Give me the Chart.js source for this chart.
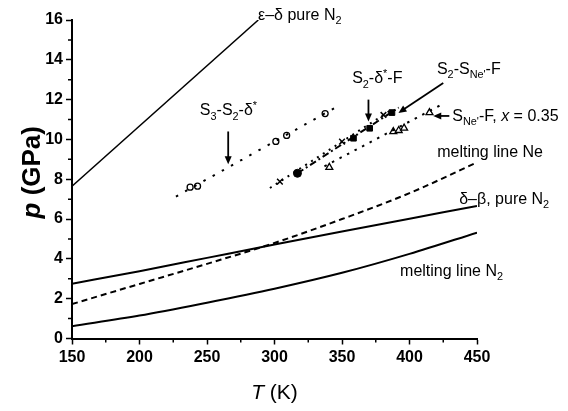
<!DOCTYPE html>
<html>
<head>
<meta charset="UTF-8">
<title>p–T diagram, N2–Ne</title>
<script src="https://cdn.jsdelivr.net/npm/chart.js@4"></script>
<style>
  body { margin: 0; background: #fff; }
  #wrap { width: 568px; height: 411px; }
</style>
</head>
<body>
<div id="wrap"><canvas id="chart" width="568" height="411"></canvas></div>
<script>
  // axis ticks
  const xTicks = [150, 200, 250, 300, 350, 400, 450];
  const xMinor = [175, 225, 275, 325, 375, 425];
  const yTicks = [0, 2, 4, 6, 8, 10, 12, 14, 16];
  const yMinor = [1, 3, 5, 7, 9, 11, 13, 15];

  // phase lines (T in K, p in GPa)
  const epsDeltaT = [150, 288];
  const epsDeltaP = [7.65, 16];
  const deltaBetaT = [150, 200, 250, 300, 350, 400, 450];
  const deltaBetaP = [2.75, 3.38, 4.05, 4.72, 5.38, 6.02, 6.66];
  const meltNeT = [150, 200, 250, 300, 350, 400, 450];
  const meltNeP = [1.73, 2.74, 3.75, 4.8, 6.0, 7.3, 8.85];
  const meltN2T = [150, 200, 250, 300, 350, 400, 450];
  const meltN2P = [0.62, 1.15, 1.8, 2.5, 3.3, 4.25, 5.32];

  // measured points and their guide lines
  const s3T = [237.5, 243, 301, 309, 337.5];
  const s3P = [7.6, 7.65, 9.9, 10.2, 11.3];
  const s3FitT = [227, 349];
  const s3FitP = [7.13, 11.75];

  const s2dT = [304, 350, 380.7];
  const s2dP = [7.88, 9.89, 11.23];
  const s2dFitT = [296.6, 386];
  const s2dFitP = [7.56, 11.46];

  const s2neT = [317, 358.5, 370.5, 387];
  const s2neP = [8.3, 10.06, 10.56, 11.35];
  const s2neStyle = ['circle', 'rect', 'rect', 'rect'];
  const s2neFitT = [317, 392];
  const s2neFitP = [8.3, 11.6];

  const sneT = [340.6, 388, 392, 396, 414.8];
  const sneP = [8.6, 10.39, 10.45, 10.57, 11.35];
  const sneFitT = [337, 423];
  const sneFitP = [8.65, 11.72];

  // labels: _{} subscript, ^{} superscript, ~{} italic
  const notes = [
    { text: 'ε–δ pure N_{2}', at: [287.8, 16.3] },
    { text: 'S_{3}-S_{2}-δ^{*}', at: [244.7, 11.5] },
    { text: 'S_{2}-δ^{*}-F', at: [357.5, 13.1] },
    { text: "S_{2}-S_{Ne'}-F", at: [420.3, 13.6] },
    { text: "S_{Ne'}-F, ~{x} = 0.35", at: [431.7, 11.23] },
    { text: 'melting line Ne', at: [420.5, 9.42] },
    { text: 'δ–β, pure N_{2}', at: [436.8, 7.06] },
    { text: 'melting line N_{2}', at: [393, 3.44] }
  ];
  const arrows = [
    { from: [265.7, 10.4], to: [265.7, 8.75] },
    { from: [369.6, 12.0], to: [369.6, 10.9] },
    { from: [425, 12.84], to: [391.8, 11.33] },
    { from: [429.5, 11.18], to: [417.6, 11.18] }
  ];

  const FONT = '"Liberation Sans", Arial, sans-serif';

  function pts(T, P) {
    return T.map((t, i) => ({ x: t, y: P[i] }));
  }

  function parseRich(s) {
    const out = [];
    let buf = '', i = 0;
    while (i < s.length) {
      const c = s[i];
      if ((c === '_' || c === '^' || c === '~') && s[i + 1] === '{') {
        if (buf) out.push({ t: buf, m: 'n' });
        buf = '';
        const j = s.indexOf('}', i);
        out.push({ t: s.slice(i + 2, j), m: c });
        i = j + 1;
      } else {
        buf += c;
        i++;
      }
    }
    if (buf) out.push({ t: buf, m: 'n' });
    return out;
  }

  function drawRich(ctx, s, x, y, size, dry, weight) {
    ctx.textAlign = 'left';
    ctx.textBaseline = 'alphabetic';
    const base = y + size * 0.36;
    const w = weight ? weight + ' ' : '';
    for (const seg of parseRich(s)) {
      let f = size, dy = 0, style = '';
      if (seg.m === '_') { f = size * 0.68; dy = size * 0.28; }
      if (seg.m === '^') { f = size * 0.68; dy = -size * 0.38; }
      if (seg.m === '~') style = 'italic ';
      ctx.font = style + w + f + 'px ' + FONT;
      if (!dry) ctx.fillText(seg.t, x, base + dy);
      x += ctx.measureText(seg.t).width;
    }
    return x;
  }

  function arrow(ctx, x1, y1, x2, y2) {
    const a = Math.atan2(y2 - y1, x2 - x1), L = 8, W = 3.5;
    const c = Math.cos(a), s = Math.sin(a);
    ctx.beginPath();
    ctx.moveTo(x1, y1);
    ctx.lineTo(x2 - L * 0.7 * c, y2 - L * 0.7 * s);
    ctx.stroke();
    ctx.beginPath();
    ctx.moveTo(x2, y2);
    ctx.lineTo(x2 - L * c + W * s, y2 - L * s - W * c);
    ctx.lineTo(x2 - L * c - W * s, y2 - L * s + W * c);
    ctx.closePath();
    ctx.fill();
  }

  const extras = {
    id: 'extras',
    afterDraw(chart) {
      const { ctx, chartArea: area, scales: { x, y } } = chart;
      ctx.save();
      ctx.strokeStyle = '#000';
      ctx.fillStyle = '#000';

      // minor ticks
      ctx.lineWidth = 1.5;
      ctx.beginPath();
      yMinor.forEach(v => {
        const py = y.getPixelForValue(v);
        ctx.moveTo(area.left - 4, py);
        ctx.lineTo(area.left, py);
      });
      xMinor.forEach(v => {
        const px = x.getPixelForValue(v);
        ctx.moveTo(px, area.bottom);
        ctx.lineTo(px, area.bottom + 4);
      });
      ctx.stroke();

      // arrows
      ctx.lineWidth = 1.8;
      arrows.forEach(a => {
        arrow(ctx,
          x.getPixelForValue(a.from[0]), y.getPixelForValue(a.from[1]),
          x.getPixelForValue(a.to[0]), y.getPixelForValue(a.to[1]));
      });

      // labels
      notes.forEach(n => {
        drawRich(ctx, n.text, x.getPixelForValue(n.at[0]), y.getPixelForValue(n.at[1]), 16);
      });

      // axis titles
      const xt = '~{T} (K)';
      const wx = drawRich(ctx, xt, 0, 0, 21, true);
      drawRich(ctx, xt, (area.left + area.right) / 2 - wx / 2, 391.5, 21);

      const yt = '~{p} (GPa)';
      const wy = drawRich(ctx, yt, 0, 0, 26, true, 'bold');
      ctx.translate(31, (area.top + area.bottom) / 2 - 7);
      ctx.rotate(-Math.PI / 2);
      drawRich(ctx, yt, -wy / 2, 0, 26, false, 'bold');
      ctx.restore();
    }
  };

  const lineDs = (T, P, dash, width) => ({
    data: pts(T, P),
    showLine: true,
    pointRadius: 0,
    borderColor: '#000',
    borderWidth: width || 1.8,
    borderDash: dash || [],
    cubicInterpolationMode: 'monotone',
    tension: 0.4
  });

  const tickFont = { family: FONT, size: 16, weight: 'bold' };

  new Chart(document.getElementById('chart'), {
    type: 'scatter',
    data: {
      datasets: [
        lineDs(epsDeltaT, epsDeltaP, [], 1.5),
        lineDs(deltaBetaT, deltaBetaP, [], 2),
        lineDs(meltNeT, meltNeP, [6, 4], 2),
        lineDs(meltN2T, meltN2P, [], 2),
        lineDs(s3FitT, s3FitP, [2.5, 8], 2),
        lineDs(s2dFitT, s2dFitP, [2, 5], 2),
        lineDs(s2neFitT, s2neFitP, [7, 3, 2, 3], 2),
        lineDs(sneFitT, sneFitP, [2.5, 6], 2),
        {
          data: pts(s3T, s3P),
          pointStyle: 'circle', pointRadius: 3,
          borderColor: '#000', backgroundColor: '#fff', borderWidth: 1.3
        },
        {
          data: pts(s2dT, s2dP),
          pointStyle: 'crossRot', pointRadius: 4,
          borderColor: '#000', borderWidth: 1.5
        },
        {
          data: pts(s2neT, s2neP),
          pointStyle: s2neStyle, pointRadius: 4,
          borderColor: '#000', backgroundColor: '#000', borderWidth: 1
        },
        {
          data: pts(sneT, sneP),
          pointStyle: 'triangle', pointRadius: 4,
          borderColor: '#000', backgroundColor: '#fff', borderWidth: 1.3
        }
      ]
    },
    options: {
      responsive: false,
      animation: false,
      devicePixelRatio: 1,
      layout: { padding: { left: 0, top: 20, right: 91, bottom: 0 } },
      plugins: { legend: { display: false }, tooltip: { enabled: false } },
      scales: {
        x: {
          type: 'linear', min: 150, max: 450,
          afterBuildTicks: s => { s.ticks = xTicks.map(v => ({ value: v })); },
          afterFit: s => { s.height = 72.5; },
          border: { display: true, color: '#000', width: 2 },
          grid: { drawOnChartArea: false, drawTicks: true, tickLength: 6, tickWidth: 1.5, tickColor: '#000' },
          ticks: { color: '#000', font: tickFont, padding: 3, maxRotation: 0, autoSkip: false }
        },
        y: {
          type: 'linear', min: 0, max: 16,
          afterBuildTicks: s => { s.ticks = yTicks.map(v => ({ value: v })); },
          afterFit: s => { s.width = 72; },
          border: { display: true, color: '#000', width: 2 },
          grid: { drawOnChartArea: false, drawTicks: true, tickLength: 6, tickWidth: 1.5, tickColor: '#000' },
          ticks: { color: '#000', font: tickFont, padding: 3, autoSkip: false }
        }
      }
    },
    plugins: [extras]
  });
</script>
</body>
</html>
